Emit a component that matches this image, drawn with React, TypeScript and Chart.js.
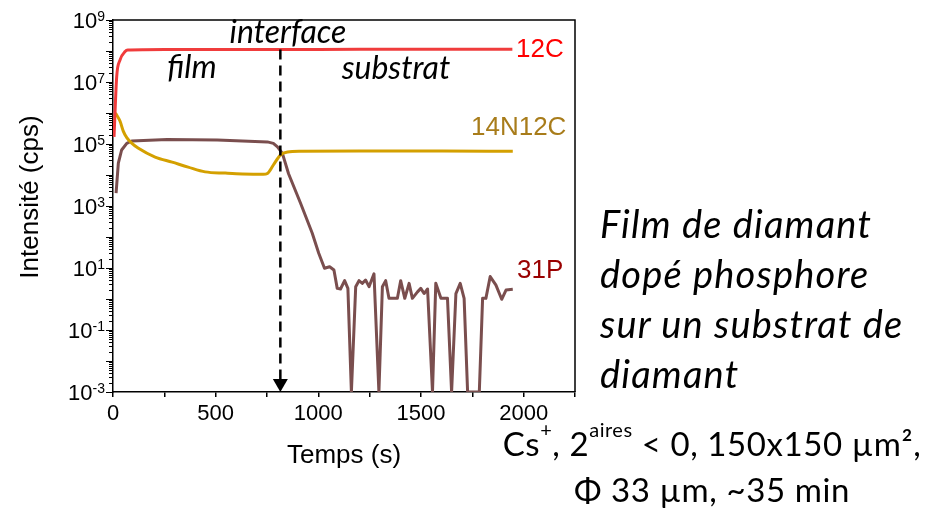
import React, { useEffect, useRef } from 'react';
import { Chart, registerables } from 'chart.js';

Chart.register(...registerables);

// ---- data (time in s, intensity in cps) ----
const c12Time = [5, 18, 34, 59, 72, 150, 400, 800, 1200, 1600, 1945];
const c12Values = [1.7e5, 1.5e7, 5.1e7, 9.6e7, 1.07e8, 1.1e8, 1.12e8, 1.12e8, 1.13e8, 1.13e8, 1.13e8];

const n14c12Time = [12, 34, 50, 67, 91, 122, 205, 288, 366, 449, 547, 630, 732, 752, 781, 815, 850, 913, 1200, 1600, 1947];
const n14c12Values = [1.0e6, 5.5e5, 2.6e5, 1.6e5, 1.07e5, 7.4e4, 3.8e4, 2.6e4, 1.8e4, 1.26e4, 1.15e4, 1.08e4, 1.05e4, 1.12e4, 2.1e4, 4.4e4, 5.5e4, 5.8e4, 5.9e4, 5.9e4, 5.8e4];

const p31Time = [15, 26, 42, 67, 91, 264, 508, 752, 781, 801, 825, 855, 913, 970, 1002, 1030, 1055, 1076, 1092, 1108, 1128, 1144, 1161, 1182, 1198, 1214, 1230, 1247, 1271, 1295, 1312, 1328, 1344, 1385, 1401, 1421, 1442, 1458, 1483, 1499, 1515, 1532, 1556, 1572, 1597, 1629, 1649, 1670, 1691, 1710, 1727, 1784, 1800, 1816, 1837, 1865, 1893, 1914, 1947];
const p31Values = [2.6e3, 2.4e4, 6.4e4, 1.05e5, 1.25e5, 1.4e5, 1.35e5, 1.17e5, 1.05e5, 8.1e4, 5e4, 1.1e4, 1.25e3, 135, 30, 9.8, 11, 8.6, 2.2, 2.1, 3.9, 2.2, 0.001, 2.5, 3.9, 3.2, 4.1, 2.5, 6.5, 0.001, 2.5, 3.9, 1.05, 1.05, 3.9, 1.05, 3.2, 1.05, 1.7, 2.2, 1.5, 2.1, 0.001, 3.2, 1.05, 1.05, 0.001, 1.5, 3.2, 1.05, 0.001, 0.001, 1.05, 1.05, 5.3, 2.8, 0.98, 1.95, 2.05];

const seriesNames = ['12C', '14N12C', '31P'];
const xTickLabels = [0, 500, 1000, 1500, 2000];
const yLabelExponents = [9, 7, 5, 3, 1, -1, -3];
const interfaceTime = 815;
const interfaceTopValue = 1.12e8;
const regionLabels = ['interface', 'film', 'substrat'];

const SANS = '"Liberation Sans", Arial, sans-serif';
const CAL = 'Lato, "Open Sans", sans-serif';

const toPoints = (t: number[], v: number[]) => t.map((x, i) => ({ x, y: v[i] }));

const decorPlugin = {
  id: 'decor',
  afterDraw(chart: any) {
    const { ctx, chartArea, scales } = chart;
    const xs = scales.x;
    const ys = scales.y;
    const { left, right, top, bottom } = chartArea;
    ctx.save();
    // frame top & right
    ctx.strokeStyle = '#000';
    ctx.lineWidth = 1.5;
    ctx.beginPath();
    ctx.moveTo(left, top);
    ctx.lineTo(right, top);
    ctx.lineTo(right, bottom);
    ctx.stroke();

    // y ticks (major + minor)
    ctx.lineWidth = 1;
    const minE = Math.round(Math.log10(ys.min));
    const maxE = Math.round(Math.log10(ys.max));
    for (let e = minE; e <= maxE; e++) {
      for (let k = 1; k <= 9; k++) {
        if (e === maxE && k > 1) break;
        const y = Math.round(ys.getPixelForValue(k * Math.pow(10, e))) + 0.5;
        const len = k === 1 ? 7 : 4;
        ctx.beginPath();
        ctx.moveTo(left - len, y);
        ctx.lineTo(left, y);
        ctx.stroke();
      }
    }

    // y tick labels 10^n
    ctx.fillStyle = '#000';
    ctx.textAlign = 'left';
    ctx.textBaseline = 'alphabetic';
    const R = left - 8;
    yLabelExponents.forEach((e) => {
      const y = ys.getPixelForValue(Math.pow(10, e));
      ctx.font = `22px ${SANS}`;
      const bw = ctx.measureText('10').width;
      ctx.font = `14px ${SANS}`;
      const expStr = String(e);
      const ew = ctx.measureText(expStr).width;
      ctx.font = `22px ${SANS}`;
      ctx.fillText('10', R - ew - bw, y + 8);
      ctx.font = `14px ${SANS}`;
      ctx.fillText(expStr, R - ew, y + 1);
    });

    // y title
    ctx.save();
    ctx.translate(31, 197);
    ctx.rotate(-Math.PI / 2);
    ctx.font = `26px ${SANS}`;
    ctx.textAlign = 'center';
    ctx.textBaseline = 'middle';
    ctx.fillText('Intensité (cps)', 0, 0);
    ctx.restore();

    // interface dashed arrow
    const xi = xs.getPixelForValue(interfaceTime);
    const yTop = ys.getPixelForValue(interfaceTopValue);
    ctx.strokeStyle = '#000';
    ctx.lineWidth = 2.5;
    ctx.setLineDash([10, 6]);
    ctx.beginPath();
    ctx.moveTo(xi, yTop);
    ctx.lineTo(xi, bottom - 12);
    ctx.stroke();
    ctx.setLineDash([]);
    ctx.beginPath();
    ctx.moveTo(xi - 7.5, bottom - 13);
    ctx.lineTo(xi + 7.5, bottom - 13);
    ctx.lineTo(xi, bottom);
    ctx.closePath();
    ctx.fill();

    // region labels
    ctx.font = `italic 32px ${CAL}`;
    ctx.textAlign = 'center';
    ctx.fillStyle = '#000';
    ctx.fillText(regionLabels[0], 288, 43);
    ctx.fillText(regionLabels[1], 192, 78);
    ctx.fillText(regionLabels[2], 396, 79);

    // series labels
    ctx.font = `26px ${SANS}`;
    ctx.textAlign = 'left';
    ctx.fillStyle = '#FF0000';
    ctx.fillText(seriesNames[0], 516, 57);
    ctx.fillStyle = '#A87C1A';
    ctx.fillText(seriesNames[1], 471, 135);
    ctx.fillStyle = '#990000';
    ctx.fillText(seriesNames[2], 517, 278);
    ctx.restore();
  },
};

function ChartBox() {
  const ref = useRef<HTMLCanvasElement>(null);
  useEffect(() => {
    if (!ref.current) return;
    const chart = new Chart(ref.current, {
      type: 'line',
      data: {
        datasets: [
          {
            label: seriesNames[0],
            data: toPoints(c12Time, c12Values),
            borderColor: '#F03C3C',
            borderWidth: 3,
            pointRadius: 0,
            cubicInterpolationMode: 'monotone',
            borderJoinStyle: 'round',
          },
          {
            label: seriesNames[1],
            data: toPoints(n14c12Time, n14c12Values),
            borderColor: '#D4A000',
            borderWidth: 3,
            pointRadius: 0,
            cubicInterpolationMode: 'monotone',
            borderJoinStyle: 'round',
          },
          {
            label: seriesNames[2],
            data: toPoints(p31Time, p31Values),
            borderColor: '#7A4E4E',
            borderWidth: 3,
            pointRadius: 0,
            tension: 0,
            borderJoinStyle: 'round',
          },
        ],
      } as any,
      options: {
        animation: false,
        responsive: false,
        devicePixelRatio: 1,
        layout: { padding: { left: 0, right: 356, top: 20, bottom: 0 } },
        plugins: { legend: { display: false }, tooltip: { enabled: false } },
        scales: {
          x: {
            type: 'linear',
            min: 0,
            max: 2250,
            afterFit: (s: any) => {
              s.height = 119;
            },
            ticks: {
              stepSize: 250,
              autoSkip: false,
              maxRotation: 0,
              padding: 4,
              color: '#000',
              font: { family: SANS, size: 22 },
              callback: (v: any) => (xTickLabels.includes(Number(v)) ? String(v) : ''),
            },
            grid: { drawOnChartArea: false, drawTicks: true, tickLength: 5, color: '#000', lineWidth: 1.5 },
            border: { display: true, color: '#000', width: 1.5 },
            title: {
              display: true,
              text: 'Temps (s)',
              color: '#000',
              font: { family: SANS, size: 26 },
              padding: { top: 0, bottom: 40 },
            },
          },
          y: {
            type: 'logarithmic',
            min: 1e-3,
            max: 1e9,
            afterFit: (s: any) => {
              s.width = 113;
            },
            ticks: { display: false },
            grid: { display: false },
            border: { display: true, color: '#000', width: 1.5 },
          },
        },
      } as any,
      plugins: [decorPlugin],
    });
    return () => chart.destroy();
  }, []);
  return <canvas ref={ref} width={931} height={511} style={{ position: 'absolute', left: 0, top: 0 }} />;
}

const supStyle: React.CSSProperties = {
  fontSize: '20px',
  verticalAlign: 'baseline',
  position: 'relative',
  top: '-19px',
  letterSpacing: '0.5px',
};

const infoLine: React.CSSProperties = {
  position: 'absolute',
  left: 462,
  width: 500,
  textAlign: 'center',
  font: `33px ${CAL}`,
  letterSpacing: '0.6px',
  lineHeight: '40px',
  whiteSpace: 'nowrap',
  color: '#000',
};

export default function App() {
  return (
    <div style={{ position: 'fixed', left: 0, top: 0, width: 931, height: 511, background: '#fff', overflow: 'hidden' }}>
      <ChartBox />
      <div
        style={{
          position: 'absolute',
          left: 600,
          top: 198,
          font: `italic 38px ${CAL}`,
          letterSpacing: '1.2px',
          lineHeight: '50px',
          whiteSpace: 'nowrap',
          color: '#000',
        }}
      >
        Film de diamant
        <br />
        dopé phosphore
        <br />
        sur un substrat de
        <br />
        diamant
      </div>
      <div style={{ ...infoLine, top: 423 }}>
        Cs<span style={supStyle}>+</span>, 2<span style={supStyle}>aires</span> &lt; 0, 150x150 µm²,
      </div>
      <div style={{ ...infoLine, top: 469 }}>Φ 33 µm, ~35 min</div>
    </div>
  );
}
